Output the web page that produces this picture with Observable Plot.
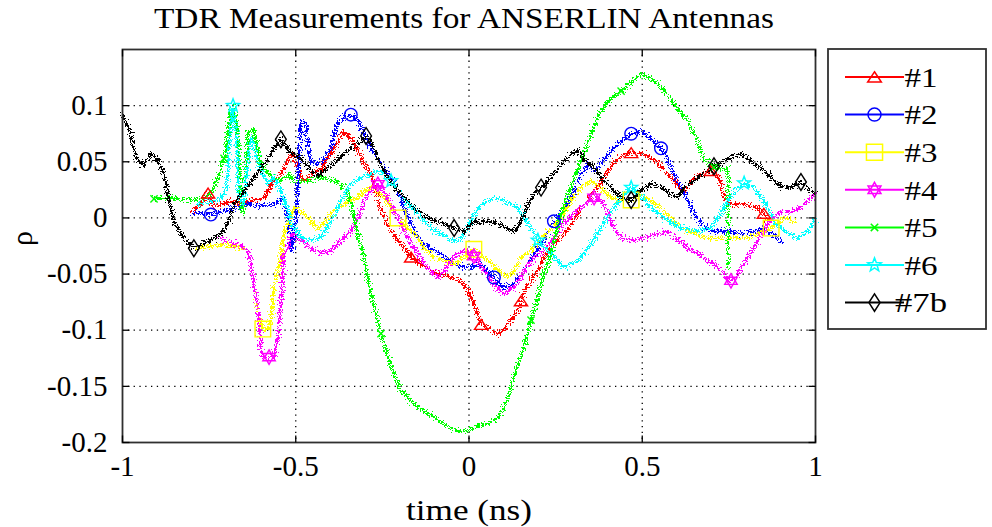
<!DOCTYPE html>
<html>
<head>
<meta charset="utf-8">
<script src="https://cdn.jsdelivr.net/npm/d3@7"></script>
<script src="https://cdn.jsdelivr.net/npm/@observablehq/plot@0.6"></script>
<style>
  html, body { margin: 0; padding: 0; background: #fff; }
  #chart { width: 992px; height: 527px; }
</style>
</head>
<body>
<div id="chart"></div>
<script>
// Reflection coefficient rho vs. time (ns), one [time, rho] list per antenna.
const names = ["#1", "#2", "#3", "#4", "#5", "#6", "#7b"];
const colors = ["#ff0000", "#0000ff", "#ffff00", "#ff00ff", "#00ff00", "#00ffff", "#000000"];

const ant1 = [[-0.797,0.006],[-0.773,0.012],[-0.753,0.022],[-0.736,0.01],[-0.716,0.012],[-0.687,0.015],[-0.658,0.013],[-0.62,0.016],[-0.592,0.018],[-0.563,0.033],[-0.543,0.039],[-0.514,0.057],[-0.494,0.044],[-0.476,0.033],[-0.456,0.039],[-0.427,0.044],[-0.407,0.053],[-0.378,0.068],[-0.361,0.077],[-0.341,0.071],[-0.32,0.06],[-0.303,0.048],[-0.283,0.039],[-0.268,0.024],[-0.26,0.012],[-0.245,0.0],[-0.225,-0.012],[-0.205,-0.02],[-0.188,-0.027],[-0.167,-0.035],[-0.139,-0.041],[-0.11,-0.047],[-0.081,-0.05],[-0.052,-0.053],[-0.023,-0.056],[-0.003,-0.064],[0.014,-0.076],[0.035,-0.095],[0.063,-0.1],[0.084,-0.103],[0.101,-0.1],[0.121,-0.091],[0.141,-0.083],[0.15,-0.074],[0.17,-0.059],[0.199,-0.047],[0.216,-0.035],[0.237,-0.027],[0.266,-0.017],[0.286,-0.01],[0.303,-0.002],[0.323,0.009],[0.343,0.015],[0.361,0.024],[0.381,0.031],[0.401,0.042],[0.418,0.049],[0.439,0.055],[0.468,0.058],[0.505,0.057],[0.545,0.049],[0.574,0.039],[0.603,0.029],[0.62,0.024],[0.641,0.033],[0.67,0.039],[0.698,0.042],[0.727,0.033],[0.736,0.018],[0.756,0.012],[0.794,0.012],[0.834,0.009],[0.851,0.004],[0.863,-0.003]];
const ant2 = [[-0.797,0.004],[-0.745,0.003],[-0.678,0.009],[-0.638,0.012],[-0.6,0.011],[-0.563,0.012],[-0.534,0.018],[-0.519,-0.01],[-0.511,-0.03],[-0.499,0.0],[-0.485,0.086],[-0.47,0.084],[-0.465,0.062],[-0.456,0.05],[-0.436,0.048],[-0.418,0.053],[-0.398,0.062],[-0.378,0.086],[-0.361,0.09],[-0.341,0.092],[-0.32,0.086],[-0.303,0.075],[-0.283,0.062],[-0.263,0.053],[-0.245,0.044],[-0.225,0.036],[-0.205,0.024],[-0.188,0.009],[-0.167,-0.005],[-0.147,-0.018],[-0.13,-0.023],[-0.11,-0.027],[-0.081,-0.032],[-0.052,-0.038],[-0.023,-0.043],[0.006,-0.044],[0.035,-0.041],[0.072,-0.053],[0.101,-0.062],[0.13,-0.059],[0.159,-0.047],[0.188,-0.032],[0.216,-0.02],[0.245,-0.003],[0.274,0.008],[0.294,0.018],[0.323,0.039],[0.343,0.048],[0.361,0.042],[0.381,0.048],[0.41,0.06],[0.439,0.068],[0.468,0.075],[0.496,0.077],[0.525,0.071],[0.554,0.062],[0.574,0.051],[0.592,0.039],[0.612,0.027],[0.632,0.015],[0.649,0.004],[0.67,-0.005],[0.698,-0.012],[0.727,-0.012],[0.756,-0.012],[0.785,-0.014],[0.823,-0.012],[0.851,-0.009],[0.872,-0.014],[0.9,-0.02]];
const ant3 = [[-0.782,-0.027],[-0.745,-0.025],[-0.707,-0.024],[-0.667,-0.026],[-0.638,-0.029],[-0.629,-0.041],[-0.62,-0.062],[-0.609,-0.085],[-0.595,-0.099],[-0.583,-0.1],[-0.571,-0.091],[-0.563,-0.062],[-0.551,-0.047],[-0.543,-0.032],[-0.534,-0.014],[-0.522,-0.005],[-0.505,0.009],[-0.485,0.006],[-0.456,-0.003],[-0.436,-0.009],[-0.418,-0.005],[-0.398,0.004],[-0.378,0.009],[-0.349,0.015],[-0.32,0.018],[-0.303,0.024],[-0.283,0.027],[-0.263,0.024],[-0.245,0.018],[-0.225,0.009],[-0.205,0.0],[-0.188,-0.005],[-0.167,-0.012],[-0.147,-0.018],[-0.13,-0.027],[-0.101,-0.035],[-0.072,-0.038],[-0.043,-0.041],[-0.014,-0.035],[0.014,-0.028],[0.055,-0.038],[0.084,-0.047],[0.113,-0.053],[0.13,-0.047],[0.15,-0.035],[0.179,-0.029],[0.208,-0.018],[0.237,-0.009],[0.266,0.0],[0.294,0.015],[0.323,0.027],[0.352,0.033],[0.381,0.027],[0.41,0.018],[0.439,0.015],[0.468,0.016],[0.496,0.021],[0.525,0.015],[0.554,0.009],[0.583,0.0],[0.612,-0.009],[0.649,-0.014],[0.69,-0.018],[0.727,-0.018],[0.765,-0.018],[0.805,-0.018],[0.834,-0.014],[0.872,-0.009],[0.909,0.0],[0.938,-0.003]];
const ant4 = [[-0.716,-0.018],[-0.687,-0.022],[-0.658,-0.025],[-0.638,-0.029],[-0.629,-0.041],[-0.62,-0.062],[-0.609,-0.08],[-0.6,-0.121],[-0.592,-0.124],[-0.577,-0.124],[-0.563,-0.124],[-0.551,-0.107],[-0.543,-0.077],[-0.537,-0.047],[-0.534,-0.032],[-0.522,-0.027],[-0.514,-0.014],[-0.485,-0.02],[-0.456,-0.027],[-0.427,-0.032],[-0.398,-0.029],[-0.369,-0.02],[-0.341,-0.012],[-0.32,0.0],[-0.303,0.015],[-0.283,0.024],[-0.263,0.03],[-0.245,0.024],[-0.225,0.012],[-0.205,0.0],[-0.188,-0.012],[-0.167,-0.023],[-0.147,-0.032],[-0.13,-0.041],[-0.11,-0.047],[-0.089,-0.053],[-0.072,-0.047],[-0.043,-0.035],[-0.014,-0.029],[0.014,-0.034],[0.043,-0.047],[0.072,-0.059],[0.101,-0.068],[0.13,-0.062],[0.159,-0.047],[0.188,-0.035],[0.216,-0.029],[0.245,-0.018],[0.274,-0.005],[0.303,0.004],[0.332,0.012],[0.361,0.018],[0.381,0.015],[0.401,0.006],[0.418,-0.009],[0.439,-0.018],[0.468,-0.02],[0.505,-0.018],[0.545,-0.014],[0.574,-0.012],[0.603,-0.02],[0.641,-0.029],[0.678,-0.035],[0.707,-0.041],[0.736,-0.05],[0.756,-0.056],[0.776,-0.05],[0.805,-0.035],[0.834,-0.02],[0.863,-0.005],[0.892,0.004],[0.929,0.006],[0.958,0.009],[0.987,0.018],[1.0,0.021]];
const ant5 = [[-0.909,0.017],[-0.86,0.018],[-0.811,0.016],[-0.773,0.017],[-0.745,0.021],[-0.724,0.036],[-0.707,0.053],[-0.696,0.077],[-0.687,0.095],[-0.678,0.1],[-0.667,0.077],[-0.662,0.039],[-0.655,0.004],[-0.647,0.02],[-0.638,0.077],[-0.62,0.079],[-0.609,0.06],[-0.6,0.048],[-0.58,0.039],[-0.543,0.033],[-0.522,0.039],[-0.505,0.033],[-0.465,0.033],[-0.427,0.036],[-0.39,0.033],[-0.369,0.03],[-0.349,0.022],[-0.335,0.005],[-0.32,-0.015],[-0.303,-0.035],[-0.291,-0.056],[-0.274,-0.08],[-0.254,-0.103],[-0.234,-0.124],[-0.216,-0.139],[-0.196,-0.154],[-0.176,-0.16],[-0.147,-0.169],[-0.118,-0.174],[-0.089,-0.18],[-0.061,-0.186],[-0.032,-0.19],[-0.003,-0.189],[0.026,-0.185],[0.055,-0.183],[0.084,-0.178],[0.101,-0.169],[0.121,-0.151],[0.141,-0.13],[0.159,-0.115],[0.179,-0.091],[0.199,-0.071],[0.216,-0.05],[0.237,-0.032],[0.257,-0.005],[0.286,0.021],[0.315,0.044],[0.343,0.066],[0.372,0.09],[0.401,0.104],[0.439,0.113],[0.468,0.12],[0.496,0.128],[0.525,0.124],[0.554,0.117],[0.592,0.101],[0.632,0.086],[0.661,0.068],[0.678,0.053],[0.707,0.045],[0.736,0.043],[0.747,0.045],[0.748,-0.044]];
const ant6 = [[-0.782,0.012],[-0.745,0.015],[-0.716,0.016],[-0.698,0.03],[-0.69,0.07],[-0.681,0.1],[-0.672,0.075],[-0.664,0.02],[-0.652,0.012],[-0.641,0.04],[-0.629,0.071],[-0.62,0.068],[-0.612,0.05],[-0.6,0.042],[-0.58,0.03],[-0.563,0.036],[-0.543,0.024],[-0.522,0.006],[-0.514,-0.005],[-0.485,-0.017],[-0.456,-0.02],[-0.427,-0.017],[-0.398,-0.003],[-0.369,0.015],[-0.341,0.03],[-0.312,0.036],[-0.283,0.039],[-0.254,0.042],[-0.225,0.033],[-0.196,0.021],[-0.167,0.009],[-0.139,0.0],[-0.11,-0.009],[-0.081,-0.014],[-0.052,-0.02],[-0.023,-0.02],[0.006,-0.002],[0.035,0.012],[0.072,0.018],[0.101,0.015],[0.141,0.009],[0.17,-0.005],[0.199,-0.02],[0.237,-0.032],[0.274,-0.044],[0.315,-0.038],[0.352,-0.023],[0.381,-0.009],[0.41,0.006],[0.439,0.018],[0.468,0.027],[0.496,0.02],[0.525,0.009],[0.563,0.0],[0.612,-0.009],[0.661,-0.012],[0.698,-0.009],[0.736,0.009],[0.765,0.024],[0.794,0.031],[0.823,0.027],[0.851,0.015],[0.88,-0.003],[0.921,-0.014],[0.949,-0.018],[0.978,-0.012],[1.0,0.0]];
const ant7b = [[-1.0,0.092],[-0.976,0.075],[-0.961,0.053],[-0.94,0.046],[-0.918,0.058],[-0.895,0.05],[-0.88,0.039],[-0.866,0.015],[-0.851,-0.005],[-0.831,-0.014],[-0.811,-0.022],[-0.794,-0.027],[-0.765,-0.023],[-0.736,-0.018],[-0.716,-0.014],[-0.696,-0.005],[-0.678,0.012],[-0.649,0.024],[-0.62,0.036],[-0.592,0.048],[-0.563,0.061],[-0.543,0.07],[-0.514,0.058],[-0.485,0.053],[-0.456,0.042],[-0.436,0.037],[-0.418,0.042],[-0.39,0.049],[-0.361,0.057],[-0.332,0.064],[-0.297,0.073],[-0.283,0.068],[-0.263,0.053],[-0.234,0.036],[-0.205,0.024],[-0.176,0.015],[-0.147,0.006],[-0.11,-0.001],[-0.072,-0.005],[-0.043,-0.009],[-0.014,-0.012],[0.014,-0.003],[0.055,-0.003],[0.084,-0.005],[0.113,-0.01],[0.13,-0.012],[0.15,-0.004],[0.17,0.012],[0.188,0.021],[0.208,0.027],[0.237,0.036],[0.266,0.048],[0.294,0.057],[0.315,0.06],[0.332,0.053],[0.361,0.044],[0.39,0.033],[0.418,0.024],[0.447,0.017],[0.468,0.016],[0.496,0.024],[0.525,0.03],[0.554,0.027],[0.583,0.021],[0.603,0.018],[0.62,0.027],[0.649,0.033],[0.678,0.039],[0.707,0.046],[0.736,0.051],[0.765,0.055],[0.785,0.057],[0.814,0.051],[0.843,0.044],[0.872,0.036],[0.9,0.028],[0.929,0.027],[0.958,0.032],[0.978,0.026],[1.0,0.022]];

// Sample times that carry a marker symbol, per antenna.
const mark1 = [-0.753, -0.167, 0.035, 0.15, 0.468, 0.698, 0.851];
const mark2 = [-0.745, -0.341, 0.072, 0.245, 0.468, 0.554];
const mark3 = [-0.595, -0.205, 0.014, 0.468, 0.872];
const mark4 = [-0.577, -0.263, 0.014, 0.361, 0.756];
const mark5 = [-0.909, -0.707, -0.254, 0.179, 0.439, 0.707];
const mark6 = [-0.681, -0.225, 0.199, 0.468, 0.794];
const mark7b = [-0.794, -0.543, -0.297, -0.043, 0.208, 0.468, 0.707, 0.958];

const xTicks = [-1, -0.5, 0, 0.5, 1];
const yTicks = [-0.2, -0.15, -0.1, -0.05, 0, 0.05, 0.1];
const xDomain = [-1, 1];
const yDomain = [-0.2, 0.15];

const seriesData = [ant1, ant2, ant3, ant4, ant5, ant6, ant7b];
const seriesMarks = [mark1, mark2, mark3, mark4, mark5, mark6, mark7b];

// MATLAB-style marker shapes (r = sqrt(size / PI))
const rOf = size => Math.sqrt(size / Math.PI);
const symTriangle = {draw(c, s) { const r = rOf(s); c.moveTo(0, -0.85 * r); c.lineTo(1.1 * r, 0.8 * r); c.lineTo(-1.1 * r, 0.8 * r); c.closePath(); }};
const symCircle = {draw(c, s) { const r = rOf(s) * 1.05; c.moveTo(r, 0); c.arc(0, 0, r, 0, 2 * Math.PI); }};
const symSquare = {draw(c, s) { const h = rOf(s) * 1.3; c.rect(-h, -h, 2 * h, 2 * h); }};
const symHexagram = {draw(c, s) {
  const R = rOf(s) * 1.2;
  for (const a0 of [-Math.PI / 2, Math.PI / 2]) {
    for (let k = 0; k < 3; k++) {
      const a = a0 + k * 2 * Math.PI / 3;
      k ? c.lineTo(R * Math.cos(a), R * Math.sin(a)) : c.moveTo(R * Math.cos(a), R * Math.sin(a));
    }
    c.closePath();
  }
}};
const symTimes = {draw(c, s) { const h = rOf(s) * 0.6; c.moveTo(-h, -h); c.lineTo(h, h); c.moveTo(h, -h); c.lineTo(-h, h); }};
const symPentagram = {draw(c, s) {
  const R = rOf(s) * 1.15, ri = R * 0.42;
  for (let k = 0; k < 10; k++) {
    const a = -Math.PI / 2 + k * Math.PI / 5, rr = k % 2 ? ri : R;
    k ? c.lineTo(rr * Math.cos(a), rr * Math.sin(a)) : c.moveTo(rr * Math.cos(a), rr * Math.sin(a));
  }
  c.closePath();
}};
const symDiamond = {draw(c, s) { const r = rOf(s); c.moveTo(0, -1.4 * r); c.lineTo(0.9 * r, 0); c.lineTo(0, 1.4 * r); c.lineTo(-0.9 * r, 0); c.closePath(); }};
const symbols = [symTriangle, symCircle, symSquare, symHexagram, symTimes, symPentagram, symDiamond];

// Inward tick marks
const tickUp = {draw(c) { c.moveTo(0, 0); c.lineTo(0, -7); }};
const tickDown = {draw(c) { c.moveTo(0, 0); c.lineTo(0, 7); }};
const tickRight = {draw(c) { c.moveTo(0, 0); c.lineTo(7, 0); }};
const tickLeft = {draw(c) { c.moveTo(0, 0); c.lineTo(-7, 0); }};

const rows = seriesData.flatMap((pts, i) => pts.map(([t, rho]) => ({series: names[i], t, rho})));
const markRows = seriesData.flatMap((pts, i) => {
  const keep = new Set(seriesMarks[i]);
  return pts.filter(([t]) => keep.has(t)).map(([t, rho]) => ({series: names[i], t, rho, sym: symbols[i]}));
});

const serif = "'Liberation Serif', 'Times New Roman', serif";
const titleText = "TDR Measurements for ANSERLIN Antennas";
const xLabel = "time (ns)";

const chart = Plot.plot({
  width: 992,
  height: 527,
  marginLeft: 122,
  marginRight: 177,
  marginTop: 49,
  marginBottom: 85,
  style: {fontFamily: serif, fontSize: "29px", background: "#fff", color: "#000"},
  x: {domain: xDomain, axis: null},
  y: {domain: yDomain, axis: null},
  color: {domain: names, range: colors},
  marks: [
    Plot.ruleX(xTicks.slice(1, -1), {stroke: "#000", strokeWidth: 1.3, strokeDasharray: "1.3,4.5"}),
    Plot.ruleY(yTicks.slice(1), {stroke: "#000", strokeWidth: 1.3, strokeDasharray: "1.3,4.5"}),
    Plot.line(rows, {x: "t", y: "rho", z: "series", stroke: "series", strokeWidth: 2.6, curve: "linear"}),
    Plot.dot(markRows, {x: "t", y: "rho", stroke: "series", symbol: "sym", r: 6, strokeWidth: 1.4, fill: "none"}),
    Plot.frame({stroke: "#303030", strokeWidth: 1.8}),
    Plot.dot(xTicks, {x: d => d, frameAnchor: "bottom", symbol: tickUp, stroke: "#000", strokeWidth: 1.3}),
    Plot.dot(xTicks, {x: d => d, frameAnchor: "top", symbol: tickDown, stroke: "#000", strokeWidth: 1.3}),
    Plot.dot(yTicks, {y: d => d, frameAnchor: "left", symbol: tickRight, stroke: "#000", strokeWidth: 1.3}),
    Plot.dot(yTicks, {y: d => d, frameAnchor: "right", symbol: tickLeft, stroke: "#000", strokeWidth: 1.3}),
    Plot.axisX(xTicks, {tickSize: 0, tickPadding: 13, tickFormat: d => String(d), label: null, fontSize: 29}),
    Plot.axisY(yTicks, {tickSize: 0, tickPadding: 15, tickFormat: d => String(d), label: null, fontSize: 29}),
    Plot.text([titleText], {text: d => d, frameAnchor: "top", lineAnchor: "middle", dx: -5, dy: -31, fontSize: 30}),
    Plot.text([xLabel], {text: d => d, frameAnchor: "bottom", lineAnchor: "middle", dy: 68, fontSize: 30}),
    Plot.text(["ρ"], {text: d => d, frameAnchor: "left", lineAnchor: "middle", dx: -100, rotate: -90, fontSize: 30})
  ]
});

const svg = d3.select(chart);

// Stretch title and axis label to the wide bitmap-serif look
svg.selectAll("g[aria-label='text'] text").each(function() {
  const t = this.textContent;
  if (t === titleText) d3.select(this).attr("textLength", 620).attr("lengthAdjust", "spacingAndGlyphs");
  if (t === xLabel) d3.select(this).attr("textLength", 126).attr("lengthAdjust", "spacingAndGlyphs");
});

// Rough, pixel-stepped look for the traces (zero-mean displacement)
const defs = svg.insert("defs", ":first-child");
const f = defs.append("filter").attr("id", "rough").attr("filterUnits", "userSpaceOnUse")
  .attr("x", 0).attr("y", 0).attr("width", 992).attr("height", 527);
f.append("feTurbulence").attr("type", "fractalNoise").attr("baseFrequency", "0.6").attr("numOctaves", 2).attr("seed", 7).attr("result", "n");
f.append("feDisplacementMap").attr("in", "SourceGraphic").attr("in2", "n").attr("scale", 11).attr("xChannelSelector", "R").attr("yChannelSelector", "G");
svg.selectAll("g[aria-label='line']").attr("filter", "url(#rough)").attr("shape-rendering", "crispEdges");

// Legend box at the right of the axes
const lg = svg.append("g").attr("font-family", serif).attr("font-size", 28);
lg.append("rect").attr("x", 828).attr("y", 49).attr("width", 158).attr("height", 280)
  .attr("fill", "#fff").attr("stroke", "#303030").attr("stroke-width", 1.8);
names.forEach((name, i) => {
  const y = 77 + i * 37.6;
  lg.append("line").attr("x1", 845).attr("x2", 904).attr("y1", y).attr("y2", y)
    .attr("stroke", colors[i]).attr("stroke-width", 2);
  const p = d3.path();
  symbols[i].draw(p, Math.PI * 6.2 * 6.2);
  lg.append("path").attr("d", p.toString()).attr("transform", `translate(874.5,${y})`)
    .attr("fill", "none").attr("stroke", colors[i]).attr("stroke-width", 1.5);
  lg.append("text").attr("x", 921).attr("y", y).attr("dy", "0.35em").attr("textLength", name.length > 2 ? 52 : 33)
    .attr("lengthAdjust", "spacingAndGlyphs").text(name);
});

document.getElementById("chart").append(chart);
</script>
</body>
</html>
